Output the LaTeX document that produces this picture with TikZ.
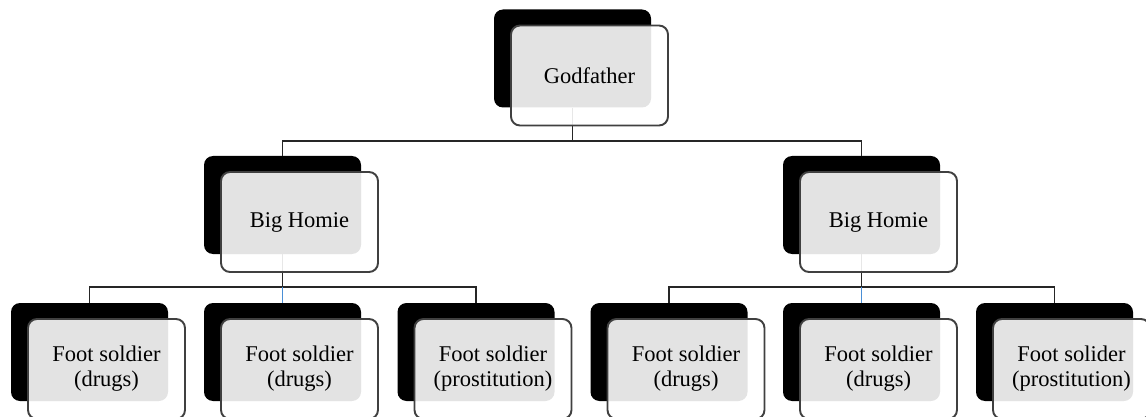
\documentclass[tikz,border=0pt]{standalone}
\usepackage{fontspec}
\setmainfont{Liberation Serif}

\definecolor{tapblue}{HTML}{4A8FD6}

\tikzset{
  shadowbox/.style={rectangle, rounded corners=9pt, fill=black,
    minimum width=157pt, minimum height=98pt, inner sep=0pt},
  labelbox/.style={rectangle, rounded corners=9pt, draw=black!75, line width=1.9pt,
    fill=white, fill opacity=0.89, text opacity=1,
    minimum width=157pt, minimum height=100pt, align=center,
    font=\fontsize{22.5}{25}\selectfont},
  wire/.style={draw=black!85, line width=1.8pt},
  bluewire/.style={draw=tapblue, line width=1.3pt}
}

\begin{document}
\begin{tikzpicture}[x=1pt, y=-1pt]
    \useasboundingbox (0,0) rectangle (1146,417);

    % black plates behind every box
    \node[shadowbox] (G-b)  at (572.5, 58.5) {};
    \node[shadowbox] (HL-b) at (282.5, 205) {};
    \node[shadowbox] (HR-b) at (861.5, 205) {};
    \foreach \n/\x in {F1/89.5, F2/282.5, F3/476, F4/669, F5/861.5, F6/1054.5}
      \node[shadowbox] (\n-b) at (\x, 352) {};

    % tree lines
    \coordinate (Gbar)  at ([yshift=-33pt]G-b.south);
    \coordinate (HLbar) at ([yshift=-33pt]HL-b.south);
    \coordinate (HRbar) at ([yshift=-33pt]HR-b.south);
    \draw[wire] (G-b.south) -- (Gbar) -| (HL-b.north);
    \draw[wire] (Gbar) -| (HR-b.north);
    \draw[wire] (HL-b.south) -- (HLbar);
    \draw[wire] (HLbar) -| (F1-b.north);
    \draw[wire] (HLbar) -| (F3-b.north);
    \draw[bluewire] (HLbar) -- (F2-b.north);
    \draw[wire] (HR-b.south) -- (HRbar);
    \draw[wire] (HRbar) -| (F4-b.north);
    \draw[wire] (HRbar) -| (F6-b.north);
    \draw[bluewire] (HRbar) -- (F5-b.north);

    % front boxes with the names
    \node[labelbox] (G)  at ([shift={(17,17)}]G-b)  {Godfather};
    \node[labelbox] (HL) at ([shift={(17,17)}]HL-b) {Big Homie};
    \node[labelbox] (HR) at ([shift={(17,17)}]HR-b) {Big Homie};
    \node[labelbox] (F1) at ([shift={(17,17)}]F1-b) {Foot soldier\\(drugs)};
    \node[labelbox] (F2) at ([shift={(17,17)}]F2-b) {Foot soldier\\(drugs)};
    \node[labelbox] (F3) at ([shift={(17,17)}]F3-b) {Foot soldier\\(prostitution)};
    \node[labelbox] (F4) at ([shift={(17,17)}]F4-b) {Foot soldier\\(drugs)};
    \node[labelbox] (F5) at ([shift={(17,17)}]F5-b) {Foot soldier\\(drugs)};
    \node[labelbox] (F6) at ([shift={(17,17)}]F6-b) {Foot solider\\(prostitution)};
\end{tikzpicture}
\end{document}
